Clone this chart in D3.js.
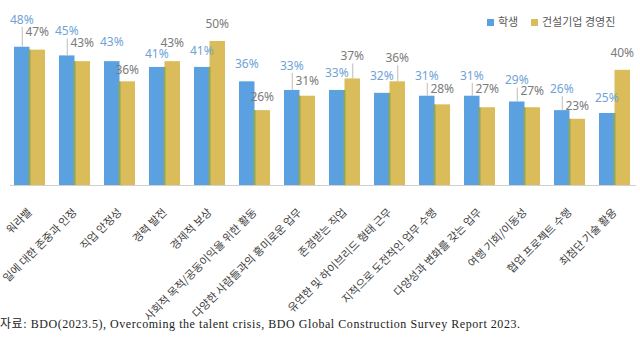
<!DOCTYPE html>
<html>
<head>
<meta charset="utf-8">
<script src="https://cdn.jsdelivr.net/npm/d3@7"></script>
<style>
  body { margin: 0; background: #fff; }
  svg { display: block; }
</style>
</head>
<body>
<svg width="640" height="339"></svg>
<script>
var categories = ["워라밸", "일에 대한 존중과 인정", "직업 안정성", "경력 발전", "경제적 보상",
  "사회적 목적/공동이익을 위한 활동", "다양한 사람들과의 흥미로운 업무", "존경받는 직업",
  "유연한 및 하이브리드 형태 근무", "지적으로 도전적인 업무 수행", "다양성과 변화를 갖는 업무",
  "여행 기회/이동성", "협업 프로젝트 수행", "최첨단 기술 활용"];
var seriesNames = ["학생", "건설기업 경영진"];
var students = [48, 45, 43, 41, 41, 36, 33, 33, 32, 31, 31, 29, 26, 25];
var executives = [47, 43, 36, 43, 50, 26, 31, 37, 36, 28, 27, 27, 23, 40];
var source = "자료: BDO(2023.5), Overcoming the talent crisis, BDO Global Construction Survey Report 2023.";

// how far each data label sits above its bar (px), as laid out in the original
var liftStudents = [23, 20, 15, 9, 12, 13, 20, 13, 13, 16, 16, 17, 17, 11];
var liftExecutives = [14, 14, 7, 14, 13, 9, 11, 18, 19, 11, 14, 12, 9, 13];

var colors = ["#5ba1e2", "#dabd5a"];
var labelColors = ["#6fa3d6", "#7b7b7b"];

var svg = d3.select("svg");

var x0 = d3.scaleBand()
  .domain(categories)
  .range([7, 637])
  .paddingInner(14 / 45)
  .paddingOuter(7 / 45);

var x1 = d3.scaleBand()
  .domain(seriesNames)
  .range([0, x0.bandwidth()]);

var y = d3.scaleLinear().domain([0, 50]).range([185, 41]);

var rows = categories.map(function(c, i) {
  return { cat: c, i: i, vals: [
    { s: seriesNames[0], k: 0, v: students[i], lift: liftStudents[i] },
    { s: seriesNames[1], k: 1, v: executives[i], lift: liftExecutives[i] }
  ]};
});

// baseline
svg.append("line")
  .attr("x1", 10).attr("x2", 636)
  .attr("y1", y(0) + 0.5).attr("y2", y(0) + 0.5)
  .attr("stroke", "#d0d0d0");

var groups = svg.append("g").selectAll("g")
  .data(rows)
  .join("g")
  .attr("transform", function(d) { return "translate(" + x0(d.cat) + ",0)"; });

groups.selectAll("rect.bar")
  .data(function(d) { return d.vals; })
  .join("rect")
  .attr("class", "bar")
  .attr("x", function(d) { return x1(d.s); })
  .attr("y", function(d) { return y(d.v); })
  .attr("width", x1.bandwidth())
  .attr("height", function(d) { return y(0) - y(d.v); })
  .attr("fill", function(d) { return colors[d.k]; });

// the thin olive seam where the two bars meet
groups.append("rect")
  .attr("x", x1(seriesNames[1]) - 1)
  .attr("y", function(d) { return y(Math.min(d.vals[0].v, d.vals[1].v)); })
  .attr("width", 2)
  .attr("height", function(d) { return y(0) - y(Math.min(d.vals[0].v, d.vals[1].v)); })
  .attr("fill", "#8fa858");

// leader lines for labels that float far off their bars
groups.selectAll("line.leader")
  .data(function(d) { return d.vals.filter(function(v) { return v.lift > 15.5; }); })
  .join("line")
  .attr("class", "leader")
  .attr("x1", function(d) { return x1(d.s) + x1.bandwidth() / 2 + 0.5; })
  .attr("x2", function(d) { return x1(d.s) + x1.bandwidth() / 2 + 0.5; })
  .attr("y1", function(d) { return y(d.v) - d.lift + 3; })
  .attr("y2", function(d) { return y(d.v); })
  .attr("stroke", "#bdbdbd")
  .attr("stroke-width", 1);

groups.selectAll("text.val")
  .data(function(d) { return d.vals; })
  .join("text")
  .attr("class", "val")
  .attr("x", function(d) { return x1(d.s) + x1.bandwidth() / 2; })
  .attr("y", function(d) { return y(d.v) - d.lift; })
  .attr("text-anchor", "middle")
  .attr("font-family", "'Noto Sans', sans-serif")
  .attr("font-size", 12)
  .attr("fill", function(d) { return labelColors[d.k]; })
  .text(function(d) { return d.v + "%"; });

// category labels, rotated
svg.append("g").selectAll("text")
  .data(categories)
  .join("text")
  .attr("transform", function(d) {
    return "translate(" + (x0(d) + x0.bandwidth() / 2 + 3) + ",213) rotate(-45)";
  })
  .attr("text-anchor", "end")
  .attr("font-family", "'Noto Sans CJK KR', sans-serif")
  .attr("font-size", 11)
  .attr("fill", "#404040")
  .text(function(d) { return d; });

// legend
var legend = svg.append("g").attr("font-family", "'Noto Sans CJK KR', sans-serif").attr("font-size", 11);
var legendX = [487, 531];
seriesNames.forEach(function(s, k) {
  legend.append("rect")
    .attr("x", legendX[k]).attr("y", 19)
    .attr("width", 7).attr("height", 7)
    .attr("fill", colors[k]);
  legend.append("text")
    .attr("x", legendX[k] + 11).attr("y", 26)
    .attr("fill", "#595959")
    .text(s);
});

// source note
svg.append("text")
  .attr("x", 0).attr("y", 328)
  .attr("font-family", "'Liberation Serif', 'Noto Sans CJK KR', serif")
  .attr("font-size", 12)
  .attr("fill", "#222")
  .attr("textLength", 520)
  .attr("lengthAdjust", "spacing")
  .text(source);
</script>
</body>
</html>
